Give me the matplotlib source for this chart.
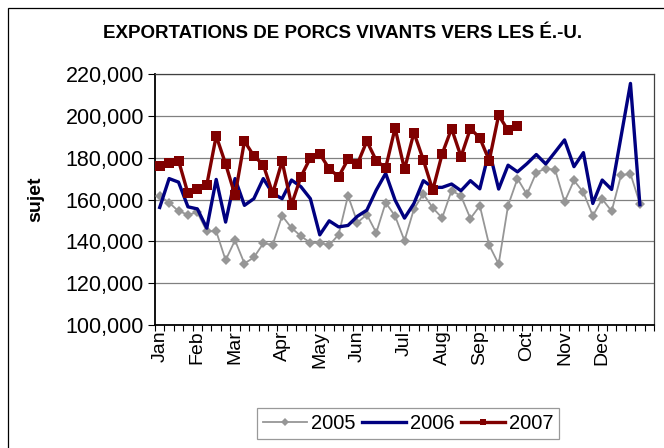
import matplotlib
matplotlib.use("Agg")
import matplotlib.pyplot as plt
from matplotlib.patches import Rectangle
from matplotlib.ticker import FuncFormatter, MultipleLocator, FixedLocator

plt.rcParams['font.family'] = ['Liberation Sans', 'DejaVu Sans']

# Weekly exports (head), 53 category slots
months = ["Jan", "Feb", "Mar", "Apr", "May", "Jun", "Jul", "Aug", "Sep", "Oct", "Nov", "Dec"]
month_week = [0, 4, 8, 13, 17, 21, 26, 30, 34, 39, 43, 47]
n_slots = 53

y2005 = [161700, 158500, 154400, 152800, 153800, 144800, 144800, 131000, 140500, 129400,
         132300, 139000, 138400, 152200, 146400, 142500, 139300, 139300, 138100, 143200,
         161800, 149000, 152800, 144100, 158500, 152100, 140300, 155400, 162700, 156000,
         151200, 164300, 161700, 150900, 157000, 138100, 129100, 157100, 170000, 162400,
         172900, 174800, 174200, 158900, 169100, 163400, 152200, 160200, 154400, 171600,
         172300, 158000]
y2006 = [156200, 170000, 168300, 156500, 155500, 146300, 169600, 149200, 170000, 157200,
         160400, 170000, 162900, 160400, 169300, 166100, 160400, 143100, 149800, 146900,
         147600, 152000, 154900, 164500, 172500, 159700, 151100, 158100, 169000, 165800,
         165800, 167400, 164200, 169000, 165100, 183300, 165000, 176400, 173200, 177100,
         181500, 177000, 182700, 188500, 175700, 182400, 158100, 169300, 164800, 190100,
         215500, 157500]
y2007 = [176000, 177600, 178600, 162900, 164800, 167000, 190400, 177000, 162000, 187900,
         180800, 176600, 162900, 178300, 157500, 170900, 179900, 181800, 174700, 170900,
         179200, 177000, 187900, 178600, 175100, 194200, 174400, 192000, 178900, 164500,
         181800, 193900, 180500, 193900, 189400, 178600, 200300, 193000, 195200]

W, H = 664, 448
fig = plt.figure(figsize=(W / 100, H / 100), dpi=100)
ax = fig.add_axes([155 / W, 1 - 325 / H, 499 / W, 251 / H])

# chart frame (runs off the right and bottom edges)
fig.patches.append(Rectangle((8 / W, -0.2), 1.2, 1 - 8 / H + 0.2, transform=fig.transFigure,
                             fill=False, edgecolor="black", linewidth=0.9))

ax.plot(range(len(y2005)), y2005, color="#969696", linewidth=1.3, marker="D",
        markersize=5.5, markeredgewidth=0, label="2005", zorder=3)
ax.plot(range(len(y2006)), y2006, color="#000080", linewidth=2.4, label="2006", zorder=4)
ax.plot(range(len(y2007)), y2007, color="#800000", linewidth=2.4, marker="s",
        markersize=6.5, markeredgewidth=0, label="2007", zorder=5)

ax.set_xlim(-0.5, n_slots - 0.5)
ax.set_ylim(100000, 220000)
ax.yaxis.set_major_locator(MultipleLocator(20000))
ax.yaxis.set_major_formatter(FuncFormatter(lambda v, p: f"{int(v):,}"))
ax.grid(axis="y", color="#808080", linewidth=0.9)
ax.set_axisbelow(True)

ax.set_xticks(month_week)
ax.set_xticklabels(months, rotation=90, fontsize=14)
ax.xaxis.set_minor_locator(FixedLocator([k - 0.5 for k in range(n_slots + 1)]))
ax.tick_params(axis="x", which="major", length=0, pad=4)
ax.tick_params(axis="x", which="minor", length=4, width=0.8, direction="out")
ax.tick_params(axis="y", length=5, width=0.8, labelsize=15.5, pad=3)

for s in ["left", "bottom"]:
    ax.spines[s].set_linewidth(1.3)
    ax.spines[s].set_color("black")
for s in ["top", "right"]:
    ax.spines[s].set_linewidth(0.9)
    ax.spines[s].set_color("#404040")

ax.set_ylabel("sujet", fontsize=14, fontweight="bold")
ax.yaxis.set_label_coords(-0.222, 0.5)

fig.text(343 / W, 1 - 33 / H, "EXPORTATIONS DE PORCS VIVANTS VERS LES É.-U.",
         ha="center", va="center", fontsize=13.5, fontweight="bold",
         family=["Liberation Sans Narrow", "Liberation Sans"])

leg = ax.legend(loc="upper center", bbox_to_anchor=(408 / W, 1 - 408 / H),
                bbox_transform=fig.transFigure, ncol=3, fontsize=14.5, frameon=True,
                fancybox=False, edgecolor="#808080", handlelength=2.2,
                handletextpad=0.2, columnspacing=0.3, borderpad=0.3,
                borderaxespad=0, markerscale=0.7)
leg.get_frame().set_linewidth(0.9)

fig.savefig("out.png", dpi=100)
